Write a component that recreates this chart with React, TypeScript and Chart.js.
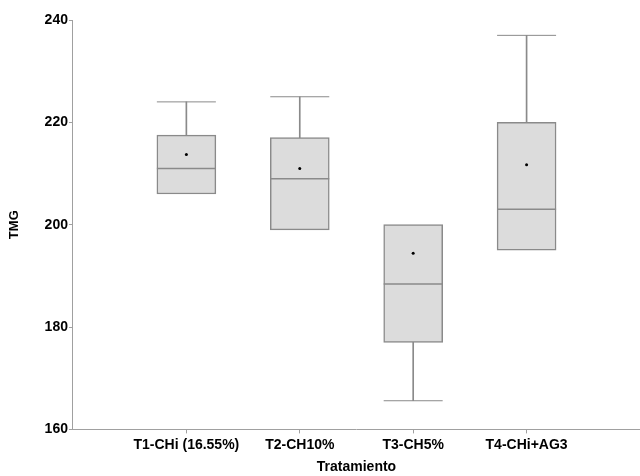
import React, { useEffect, useRef } from "react";
import { Chart, registerables } from "chart.js";

Chart.register(...registerables);

const categories = ["T1-CHi (16.55%)", "T2-CH10%", "T3-CH5%", "T4-CHi+AG3"];
const q1 = [206, 199, 177, 195];
const q3 = [217.5, 217, 200, 220];
const medians = [211, 209, 188.4, 203];
const means = [213.7, 211, 194.4, 211.7];
const whiskerFrom = [217.5, 217, 177, 220];
const whiskerTo = [224, 225, 165.6, 237];
const yTicks = [160, 180, 200, 220, 240];

const FONT = "'Liberation Sans', Arial, sans-serif";

export default function App() {
  const ref = useRef<HTMLCanvasElement | null>(null);
  useEffect(() => {
    document.body.style.margin = "0";
    const ctx = ref.current!;
    const pos = (i: number) => i + 1;
    const boxes = q1.map((v, i) => ({ x: pos(i), y: [v, q3[i]] }));
    const whiskers = whiskerFrom.map((v, i) => ({ x: pos(i), y: [v, whiskerTo[i]] }));
    const pts = (arr: number[]) => arr.map((v, i) => ({ x: pos(i), y: v }));
    const gray = "#8a8a8a";
    const axisGray = "#a0a0a0";
    const chart = new Chart(ctx, {
      type: "bar",
      data: {
        datasets: [
          {
            type: "line",
            label: "mean",
            data: pts(means),
            showLine: false,
            pointStyle: "circle",
            pointRadius: 1.5,
            pointBackgroundColor: "#000",
            pointBorderColor: "#000",
            pointBorderWidth: 0,
            order: 0,
          },
          {
            type: "line",
            label: "median",
            data: pts(medians),
            showLine: false,
            pointStyle: "line",
            pointRadius: 29.5,
            pointBorderColor: gray,
            pointBorderWidth: 1.5,
            order: 1,
          },
          {
            type: "line",
            label: "caps",
            data: pts(whiskerTo),
            showLine: false,
            pointStyle: "line",
            pointRadius: 29.5,
            pointBorderColor: gray,
            pointBorderWidth: 1,
            order: 2,
          },
          {
            type: "bar",
            label: "box",
            data: boxes,
            backgroundColor: "#dcdcdc",
            borderColor: gray,
            borderWidth: 1.5,
            borderSkipped: false,
            barThickness: 59,
            grouped: false,
            order: 3,
          },
          {
            type: "bar",
            label: "whisker",
            data: whiskers,
            backgroundColor: gray,
            borderWidth: 0,
            barThickness: 1,
            grouped: false,
            order: 4,
          },
        ],
      },
      options: {
        animation: false,
        responsive: false,
        layout: { autoPadding: false, padding: { top: 20, left: 7, right: 0, bottom: 0 } },
        plugins: { legend: { display: false }, tooltip: { enabled: false } },
        scales: {
          x: {
            type: "linear",
            min: 0,
            max: 5,
            offset: false,
            afterBuildTicks: (axis: any) => {
              axis.ticks = categories.map((_, i) => ({ value: pos(i) }));
            },
            grid: { display: true, offset: false, drawOnChartArea: false, tickLength: 4, color: axisGray },
            border: { display: true, color: axisGray },
            ticks: {
              color: "#000",
              font: { family: FONT, size: 14, weight: "bold" },
              maxRotation: 0,
              autoSkip: false,
              padding: 3,
              callback: (v: any) => categories[Number(v) - 1] ?? "",
            },
            title: {
              display: true,
              text: "Tratamiento",
              color: "#000",
              font: { family: FONT, size: 14, weight: "bold" },
              padding: { top: 3, bottom: 0 },
            },
          },
          y: {
            min: 160,
            max: 240,
            afterBuildTicks: (axis: any) => {
              axis.ticks = yTicks.map((v) => ({ value: v }));
            },
            grid: { display: true, drawOnChartArea: false, tickLength: 4, color: axisGray },
            border: { display: true, color: axisGray },
            ticks: {
              color: "#000",
              font: { family: FONT, size: 14, weight: "bold" },
              padding: 1,
            },
            title: {
              display: true,
              text: "TMG",
              color: "#000",
              font: { family: FONT, size: 13, weight: "bold" },
              padding: { top: 0, bottom: 21 },
            },
          },
        },
      },
    } as any);
    return () => chart.destroy();
  }, []);
  return <canvas ref={ref} width={640} height={476} style={{ display: "block" }} />;
}
